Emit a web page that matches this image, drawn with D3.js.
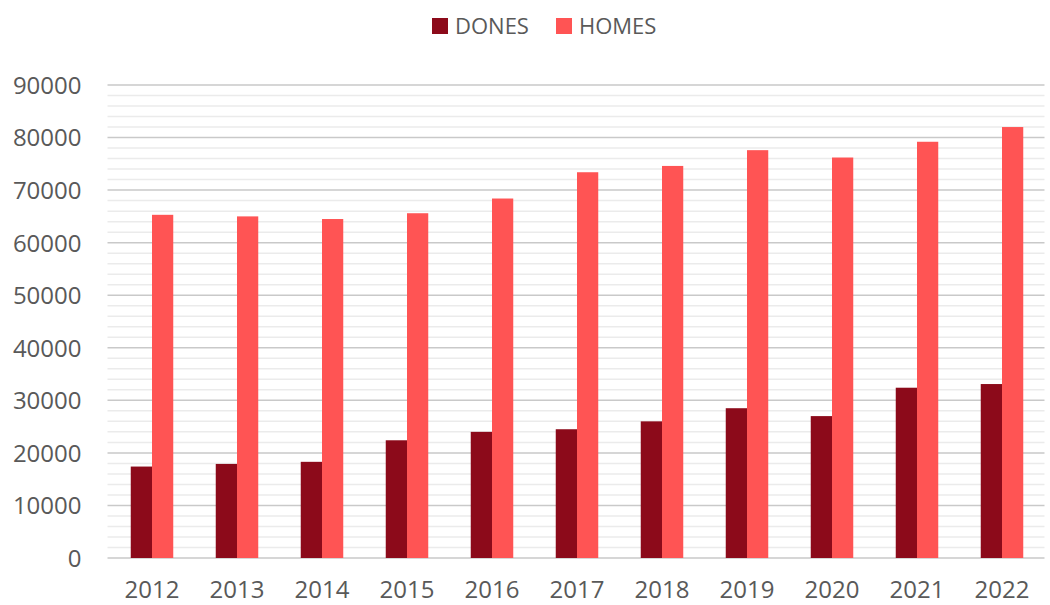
<!DOCTYPE html>
<html>
<head>
<meta charset="utf-8">
<script src="https://cdn.jsdelivr.net/npm/d3@7"></script>
<style>
  body { margin: 0; background: #fff; }
  text { font-family: "Open Sans", sans-serif; fill: #595959; }
</style>
</head>
<body>
<div id="chart"></div>
<script>
// data
var years = ["2012", "2013", "2014", "2015", "2016", "2017", "2018", "2019", "2020", "2021", "2022"];
var dones = [17400, 17900, 18300, 22400, 24000, 24500, 26000, 28500, 27000, 32400, 33100];
var homes = [65300, 65000, 64500, 65600, 68400, 73400, 74600, 77600, 76200, 79200, 82000];
var seriesNames = ["DONES", "HOMES"];
var seriesColors = ["#8c0a1a", "#ff5454"];
var yTicks = [0, 10000, 20000, 30000, 40000, 50000, 60000, 70000, 80000, 90000];

var width = 1050, height = 605;
var margin = {top: 85, right: 5.5, bottom: 47, left: 109.5};

var svg = d3.select("#chart")
  .append("svg")
  .attr("width", width)
  .attr("height", height);

var x0 = d3.scaleBand()
  .domain(years)
  .range([margin.left, width - margin.right])
  .paddingInner(0.5)
  .paddingOuter(0.25);

var x1 = d3.scaleBand()
  .domain(seriesNames)
  .range([0, x0.bandwidth()]);

var y = d3.scaleLinear()
  .domain([0, 90000])
  .range([height - margin.bottom, margin.top]);

// minor grid every 2000
var minor = d3.range(0, 90001, 2000).filter(function(v){ return v % 10000 != 0 });
svg.append("g")
  .selectAll("line")
  .data(minor)
  .enter()
  .append("line")
    .attr("x1", margin.left - 2)
    .attr("x2", width - margin.right)
    .attr("y1", function(d){ return y(d) })
    .attr("y2", function(d){ return y(d) })
    .attr("stroke", "#ebebeb")
    .attr("stroke-width", 1.5);

// major grid
svg.append("g")
  .selectAll("line")
  .data(yTicks)
  .enter()
  .append("line")
    .attr("x1", margin.left - 2)
    .attr("x2", width - margin.right)
    .attr("y1", function(d){ return y(d) })
    .attr("y2", function(d){ return y(d) })
    .attr("stroke", "#c9c9c9")
    .attr("stroke-width", 1.5);

// y axis labels
var yAxis = svg.append("g")
  .attr("transform", "translate(" + (margin.left - 28) + ",0)")
  .call(d3.axisLeft(y).tickValues(yTicks).tickSize(0).tickPadding(0).tickFormat(d3.format("d")));
yAxis.select(".domain").remove();
yAxis.selectAll("text")
  .style("font-size", "24px")
  .attr("dy", "0.35em");

// x axis labels
var xAxis = svg.append("g")
  .attr("transform", "translate(0," + (height - margin.bottom) + ")")
  .call(d3.axisBottom(x0).tickSize(0).tickPadding(23));
xAxis.select(".domain").remove();
xAxis.selectAll("text")
  .style("font-size", "24px");

// bars
var rows = years.map(function(yr, i){ return {year: yr, values: [dones[i], homes[i]]} });

svg.append("g")
  .selectAll("g")
  .data(rows)
  .enter()
  .append("g")
    .attr("transform", function(d){ return "translate(" + x0(d.year) + ",0)" })
  .selectAll("rect")
  .data(function(d){ return d.values.map(function(v, j){ return {name: seriesNames[j], value: v, color: seriesColors[j]} }) })
  .enter()
  .append("rect")
    .attr("x", function(d){ return x1(d.name) })
    .attr("width", x1.bandwidth())
    .attr("y", function(d){ return y(d.value) })
    .attr("height", function(d){ return y(0) - y(d.value) })
    .attr("fill", function(d){ return d.color });

// legend
var legendX = [432, 556];
var legend = svg.append("g")
  .selectAll("g")
  .data(seriesNames)
  .enter()
  .append("g")
    .attr("transform", function(d, i){ return "translate(" + legendX[i] + ",18)" });
legend.append("rect")
  .attr("width", 16)
  .attr("height", 16)
  .attr("fill", function(d, i){ return seriesColors[i] });
legend.append("text")
  .attr("x", 23)
  .attr("y", 8)
  .attr("dy", "0.35em")
  .style("font-size", "22px")
  .text(function(d){ return d });
</script>
</body>
</html>
